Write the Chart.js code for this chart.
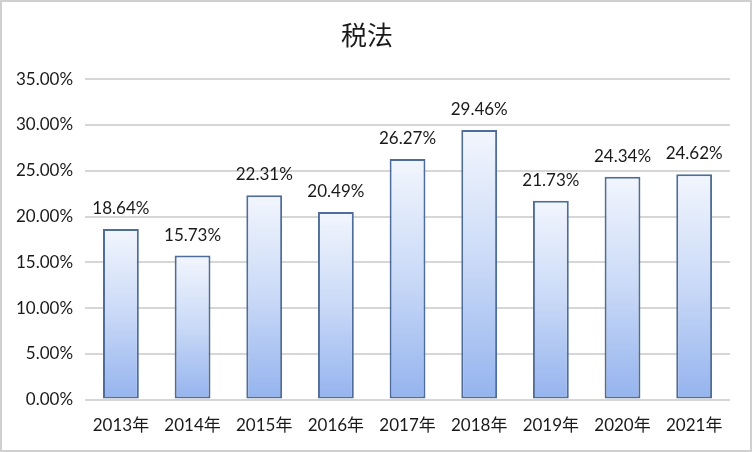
<!DOCTYPE html>
<html>
<head>
<meta charset="utf-8">
<script src="https://cdn.jsdelivr.net/npm/chart.js@4"></script>
<style>
  html, body { margin: 0; padding: 0; background: #fff; }
  .frame { width: 752px; height: 452px; box-sizing: border-box; border: 2px solid #cfcfcf; }
  .frame canvas { display: block; }
</style>
</head>
<body>
<div class="frame"><canvas id="myChart" width="748" height="448"></canvas></div>
<script>
// data
const years = ['2013年', '2014年', '2015年', '2016年', '2017年', '2018年', '2019年', '2020年', '2021年'];
const rates = [18.64, 15.73, 22.31, 20.49, 26.27, 29.46, 21.73, 24.34, 24.62];
const titleText = '税法';

const fontFam = "Lato, 'Noto Sans CJK SC', sans-serif";

// gradient per bar, light on top, blue at the bottom
function barFill(ctx) {
  const chart = ctx.chart;
  const y = chart.scales.y;
  if (!y || ctx.raw === undefined) return '#c5d6f6';
  const top = y.getPixelForValue(ctx.raw);
  const bottom = y.getPixelForValue(0);
  if (!isFinite(top) || !isFinite(bottom) || top === bottom) return '#c5d6f6';
  const g = chart.ctx.createLinearGradient(0, top, 0, bottom);
  g.addColorStop(0, '#f2f6fd');
  g.addColorStop(0.5, '#c9d9f7');
  g.addColorStop(1, '#94b3ee');
  return g;
}

// value labels above bars
const valueLabels = {
  id: 'valueLabels',
  afterDatasetsDraw(chart) {
    const c = chart.ctx;
    const meta = chart.getDatasetMeta(0);
    c.save();
    c.font = "17px " + fontFam;
    c.fillStyle = '#1a1a1a';
    c.textAlign = 'center';
    c.textBaseline = 'bottom';
    meta.data.forEach((bar, i) => {
      c.fillText(rates[i].toFixed(2) + '%', bar.x, bar.y - 12);
    });
    c.restore();
  }
};

const data = {
  labels: years,
  datasets: [{
    data: rates,
    backgroundColor: barFill,
    borderColor: '#4f6d98',
    borderWidth: 2,
    borderSkipped: false,
    barPercentage: 0.5,
    categoryPercentage: 1
  }]
};

const config = {
  type: 'bar',
  data,
  options: {
    responsive: false,
    animation: false,
    layout: { padding: { left: 2, right: 20, top: 18, bottom: 6 } },
    plugins: {
      legend: { display: false },
      tooltip: { enabled: false },
      title: {
        display: true,
        text: titleText,
        color: '#1a1a1a',
        font: { family: "'Noto Sans CJK SC', sans-serif", size: 26, weight: 'normal' },
        padding: { top: 0, bottom: 28 }
      }
    },
    scales: {
      x: {
        grid: { display: false },
        border: { display: false },
        ticks: { color: '#1a1a1a', font: { family: fontFam, size: 17 }, padding: 8 }
      },
      y: {
        min: 0,
        max: 35,
        ticks: {
          stepSize: 5,
          color: '#1a1a1a',
          padding: 12,
          font: { family: fontFam, size: 17 },
          callback: v => v.toFixed(2) + '%'
        },
        grid: { color: '#d6d6d6', lineWidth: 2, drawTicks: false },
        border: { display: false }
      }
    }
  },
  plugins: [valueLabels]
};

const myChart = new Chart(document.getElementById('myChart'), config);
</script>
</body>
</html>
